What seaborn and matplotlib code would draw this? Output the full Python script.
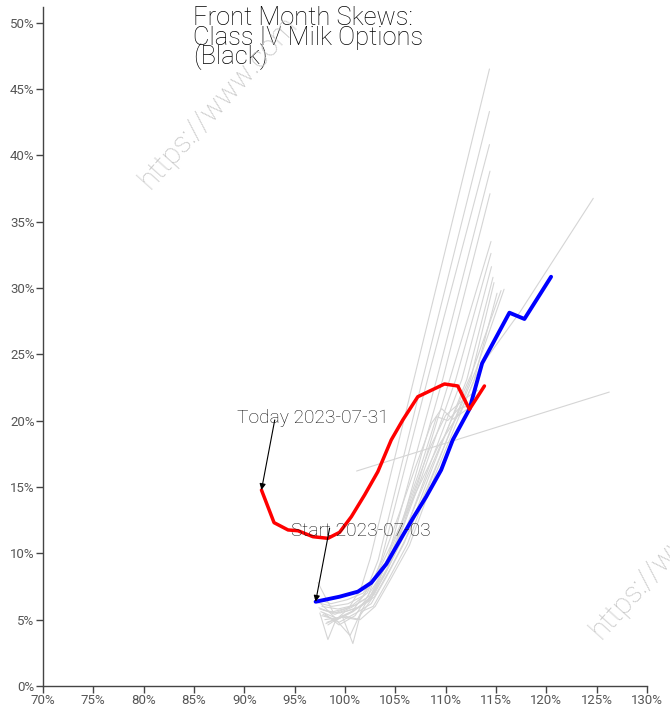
import matplotlib
matplotlib.use("Agg")
import matplotlib.pyplot as plt
from matplotlib.ticker import FuncFormatter
import seaborn as sns
import pandas as pd

# Skew curves: moneyness (% of underlying) vs implied volatility (%)
start_label = "Start 2023-07-03"
start_x = [97.08, 99.46, 101.28, 102.61, 104.10, 105.09, 106.74, 108.07, 109.55,
           110.70, 112.36, 113.62, 116.33, 117.82, 120.47]
start_y = [6.35, 6.73, 7.11, 7.78, 9.19, 10.50, 12.64, 14.27, 16.28,
           18.54, 20.87, 24.32, 28.13, 27.66, 30.84]

today_label = "Today 2023-07-31"
today_x = [91.70, 92.95, 94.34, 95.33, 96.82, 98.30, 99.46, 100.63, 101.94,
           103.26, 104.59, 105.74, 107.23, 109.88, 111.20, 112.36, 113.85]
today_y = [14.77, 12.31, 11.76, 11.70, 11.25, 11.13, 11.58, 12.76, 14.39,
           16.15, 18.54, 20.05, 21.80, 22.76, 22.61, 20.85, 22.61]

# Intermediate sessions
h01_x = [97.3, 98.8, 100.4, 101.6, 102.5, 114.35]
h01_y = [7.8, 5.6, 5.9, 7.4, 9.6, 46.5]
h02_x = [97.6, 99.2, 100.7, 102.0, 103.3, 107.7, 114.35]
h02_y = [6.2, 5.0, 5.6, 7.0, 9.5, 23.1, 43.3]
h03_x = [97.9, 99.4, 101.0, 102.3, 103.6, 108.2, 114.35]
h03_y = [5.5, 4.6, 5.3, 6.8, 9.5, 23.1, 40.8]
h04_x = [98.2, 99.7, 101.2, 102.6, 104.2, 109.1, 114.4]
h04_y = [4.8, 5.2, 5.0, 6.5, 9.5, 23.1, 38.8]
h05_x = [97.5, 98.3, 99.1, 100.0, 101.3, 102.9, 104.6, 109.7, 114.4]
h05_y = [5.5, 3.5, 5.0, 5.6, 5.9, 6.9, 9.4, 23.1, 37.1]
h06_x = [97.2, 98.7, 100.3, 101.8, 103.2, 105.0, 107.3, 110.4, 114.5]
h06_y = [6.3, 6.0, 6.2, 6.8, 8.3, 10.5, 15.4, 23.1, 33.5]
h07_x = [97.4, 99.0, 100.6, 102.1, 103.6, 105.3, 107.5, 111.0, 114.5]
h07_y = [5.9, 5.4, 5.9, 6.6, 8.4, 11.0, 15.5, 23.1, 32.6]
h08_x = [97.6, 99.2, 100.9, 102.4, 103.9, 105.6, 107.9, 111.6, 114.55]
h08_y = [5.6, 5.1, 5.7, 6.4, 8.3, 10.9, 15.6, 23.1, 31.6]
h09_x = [97.8, 99.4, 101.1, 102.6, 104.1, 105.9, 108.3, 112.1, 114.7]
h09_y = [5.4, 4.8, 5.5, 6.2, 8.2, 10.8, 15.7, 23.1, 30.8]
h10_x = [98.0, 99.76, 100.78, 101.6, 102.8, 104.3, 106.2, 108.7, 112.5, 114.8]
h10_y = [5.0, 5.2, 3.2, 5.6, 6.0, 8.0, 10.7, 15.8, 23.2, 30.4]
h11_x = [98.1, 99.8, 101.5, 103.0, 104.5, 106.4, 109.0, 112.8, 115.1]
h11_y = [4.7, 5.3, 5.0, 6.0, 8.0, 10.6, 16.0, 23.0, 29.6]
h12_x = [97.7, 99.3, 101.0, 102.7, 104.2, 106.0, 108.6, 112.6, 115.5]
h12_y = [6.0, 5.8, 6.1, 6.9, 8.9, 11.8, 16.6, 23.6, 29.8]
h13_x = [97.9, 99.5, 101.2, 102.9, 104.4, 106.3, 109.0, 113.0, 115.8]
h13_y = [5.7, 5.5, 5.9, 6.7, 8.7, 11.5, 16.5, 23.8, 29.9]
h14_x = [97.0, 98.6, 100.2, 101.8, 103.3, 105.0, 107.0, 109.2, 111.4, 113.4, 117.4, 124.66]
h14_y = [6.6, 6.2, 6.5, 7.0, 8.6, 11.3, 14.5, 18.0, 20.6, 24.0, 28.2, 36.75]
h15_x = [101.15, 126.25]
h15_y = [16.2, 22.15]
h16_x = [97.5, 99.0, 100.6, 102.2, 103.7, 105.3, 107.0, 108.6, 109.6, 110.7, 112.4]
h16_y = [5.8, 5.5, 6.0, 7.0, 9.5, 12.8, 16.5, 19.8, 20.9, 20.1, 21.0]
h17_x = [97.7, 99.2, 100.8, 102.4, 103.9, 105.6, 107.3, 109.1, 110.2, 111.3, 112.6]
h17_y = [5.3, 5.0, 5.6, 6.6, 9.0, 12.3, 16.0, 20.3, 20.0, 20.9, 21.2]
h18_x = [98.3, 99.1, 100.5, 101.8, 103.0, 104.8, 106.6, 108.4, 110.0, 111.8, 113.2]
h18_y = [4.6, 5.0, 3.8, 5.9, 7.4, 10.4, 14.2, 17.9, 20.4, 21.6, 22.3]

x_ticks = list(range(70, 131, 5))
y_ticks = list(range(0, 51, 5))

title_lines = ["Front Month Skews:", "Class IV Milk Options", "(Black)"]
watermark = "https://www.com"

sns.set_theme(style="white")
plt.rcParams["font.family"] = ["Roboto", "DejaVu Sans"]

history = [
    (h01_x, h01_y), (h02_x, h02_y), (h03_x, h03_y), (h04_x, h04_y),
    (h05_x, h05_y), (h06_x, h06_y), (h07_x, h07_y), (h08_x, h08_y),
    (h09_x, h09_y), (h10_x, h10_y), (h11_x, h11_y), (h12_x, h12_y),
    (h13_x, h13_y), (h14_x, h14_y), (h15_x, h15_y), (h16_x, h16_y),
    (h17_x, h17_y), (h18_x, h18_y),
]
hist_df = pd.concat(
    [pd.DataFrame({"m": xs, "v": ys, "curve": i}) for i, (xs, ys) in enumerate(history)],
    ignore_index=True,
)

fig = plt.figure(figsize=(6.70, 7.19), dpi=100)
ax = fig.add_axes([0.0642, 0.0459, 0.9015, 0.944])

sns.lineplot(data=hist_df, x="m", y="v", units="curve", estimator=None, sort=False,
             color="#d5d5d5", linewidth=0.8, ax=ax, legend=False)
sns.lineplot(x=start_x, y=start_y, sort=False, color="#0000ff", linewidth=2.8, ax=ax)
sns.lineplot(x=today_x, y=today_y, sort=False, color="#ff0000", linewidth=2.5, ax=ax)

ax.set_xlim(70, 130)
ax.set_ylim(0, 51.15)
ax.set_xticks(x_ticks)
ax.set_yticks(y_ticks)
pct = FuncFormatter(lambda v, _: f"{v:.0f}%")
ax.xaxis.set_major_formatter(pct)
ax.yaxis.set_major_formatter(pct)
ax.set_xlabel("")
ax.set_ylabel("")
for side in ("top", "right"):
    ax.spines[side].set_visible(False)
for side in ("left", "bottom"):
    ax.spines[side].set_color("#444444")
    ax.spines[side].set_linewidth(1.0)
ax.tick_params(axis="both", which="major", direction="out", length=5, width=1,
               color="#444444", labelcolor="#555555", labelsize=9.5, pad=1,
               bottom=True, left=True)

# Annotations for the first and last curves
ax.text(89.25, 19.82, today_label, fontsize=13.8, fontweight="light", color="#111111",
        ha="left", va="baseline")
ax.annotate("", xy=(today_x[0], today_y[0]), xytext=(93.02, 20.05),
            arrowprops=dict(arrowstyle="-|>", color="black", lw=0.8,
                            mutation_scale=9, shrinkA=0, shrinkB=0))
ax.text(94.6, 11.3, start_label, fontsize=13.8, fontweight="light", color="#111111",
        ha="left", va="baseline")
ax.annotate("", xy=(start_x[0], start_y[0]), xytext=(98.47, 11.9),
            arrowprops=dict(arrowstyle="-|>", color="black", lw=0.8,
                            mutation_scale=9, shrinkA=0, shrinkB=0))

# Title, one line per row
for i, line in enumerate(title_lines):
    fig.text(193 / 670, 1 - (25 + 19.5 * i) / 719, line, fontsize=18.4,
             fontweight="light", color="#000000", ha="left", va="baseline")

# Watermarks
for (wx, wy) in [(150 / 670, 1 - 190 / 719), (601 / 670, 1 - 640 / 719)]:
    fig.text(wx, wy, watermark, fontsize=21, fontweight="light", color="#c4c4c4",
             rotation=48, rotation_mode="anchor", ha="left", va="baseline")

fig.savefig("out.png", dpi=100)
